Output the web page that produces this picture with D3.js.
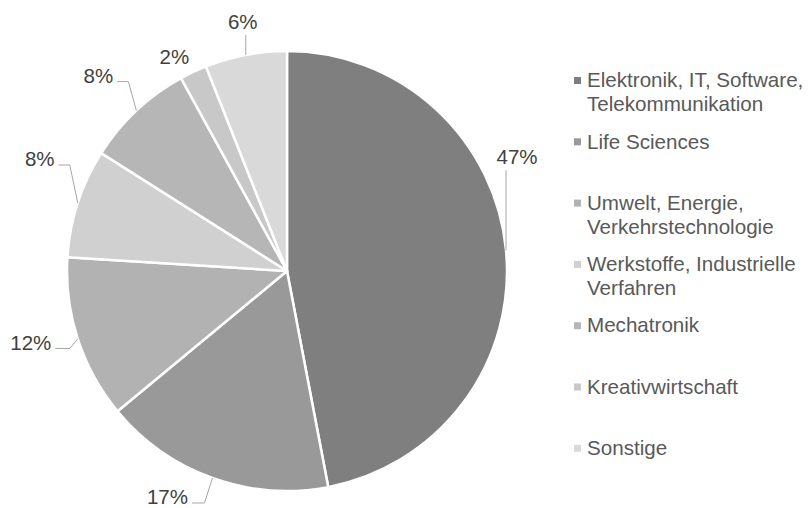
<!DOCTYPE html>
<html>
<head>
<meta charset="utf-8">
<script src="https://cdn.jsdelivr.net/npm/d3@7"></script>
<style>
  body { margin: 0; background: #fff; }
  svg { display: block; font-family: Arial, "Liberation Sans", sans-serif; }
</style>
</head>
<body>
<div id="chart"></div>
<script>
'use strict'
// data
let categories = [
  ['Elektronik, IT, Software,', 'Telekommunikation'],
  ['Life Sciences'],
  ['Umwelt, Energie,', 'Verkehrstechnologie'],
  ['Werkstoffe, Industrielle', 'Verfahren'],
  ['Mechatronik'],
  ['Kreativwirtschaft'],
  ['Sonstige']
];
let values = [47, 17, 12, 8, 8, 2, 6];
let colors = ['#7f7f7f', '#999999', '#b2b2b2', '#d0d0d0', '#b6b6b6', '#c8c8c8', '#d9d9d9'];
// label nudges from the slice edge (like excel moves them)
let labelNudge = [[11, -93], [-45, 19], [-47, 3.5], [-38, -44], [-38, -35], [-19, -15], [-3, -33]];

let width = 809, height = 508;
let cx = 287, cy = 271, radius = 220;

let svg = d3.select('#chart')
  .append('svg')
  .attr('width', width)
  .attr('height', height);

let pie = d3.pie().sort(null).value(function(d) { return d; });
let arcs = pie(values);
let arc = d3.arc().innerRadius(0).outerRadius(radius);
let edge = d3.arc().innerRadius(radius).outerRadius(radius);

let g = svg.append('g').attr('transform', 'translate(' + cx + ',' + cy + ')');

g.selectAll('.slice')
  .data(arcs)
  .enter().append('path')
  .attr('class', 'slice')
  .attr('d', arc)
  .attr('fill', function(d, i) { return colors[i]; })
  .attr('stroke', '#fff')
  .attr('stroke-width', 2.5)
  .attr('stroke-linejoin', 'round');

// labels + leader lines
arcs.forEach(function(d, i) {
  let p = edge.centroid(d);
  let lx = p[0] + labelNudge[i][0];
  let ly = p[1] + labelNudge[i][1];
  let t = g.append('text')
    .attr('x', lx)
    .attr('y', ly)
    .attr('dy', '0.35em')
    .attr('text-anchor', 'middle')
    .attr('fill', '#404040')
    .attr('font-size', '20.5px')
    .text(values[i] + '%');
  let half = t.node().getComputedTextLength() / 2;
  let dx = p[0] - lx, dy = p[1] - ly;
  let dist = Math.sqrt(dx * dx + dy * dy);
  let pts = null;
  if (dist < 30) {
    pts = null;
  } else if (Math.abs(dx) < 15) {
    pts = [[p[0], ly + 13], [p[0], p[1]]];
  } else if (dx < 0) {
    pts = [[lx - half - 4, ly + 6], [p[0] + 8, ly + 6], [p[0], p[1]]];
  } else {
    pts = [[lx + half + 4, ly + 6], [p[0] - 8, ly + 6], [p[0], p[1]]];
  }
  if (pts) {
    g.append('path')
      .attr('d', d3.line()(pts))
      .attr('fill', 'none')
      .attr('stroke', '#a6a6a6')
      .attr('stroke-width', 1);
  }
});

// legend
let legendX = 574, legendY = 80, legendStep = 61.3, lineH = 24;
let legend = svg.selectAll('.legend')
  .data(categories)
  .enter().append('g')
  .attr('class', 'legend')
  .attr('transform', function(d, i) { return 'translate(' + legendX + ',' + (legendY + i * legendStep) + ')'; });

legend.append('rect')
  .attr('x', 0)
  .attr('y', -3)
  .attr('width', 7)
  .attr('height', 7)
  .attr('fill', function(d, i) { return colors[i]; });

legend.each(function(d) {
  let item = d3.select(this);
  d.forEach(function(line, k) {
    item.append('text')
      .attr('x', 13)
      .attr('y', k * lineH)
      .attr('dy', '0.35em')
      .attr('fill', '#595959')
      .attr('font-size', '20.6px')
      .text(line);
  });
});
</script>
</body>
</html>
